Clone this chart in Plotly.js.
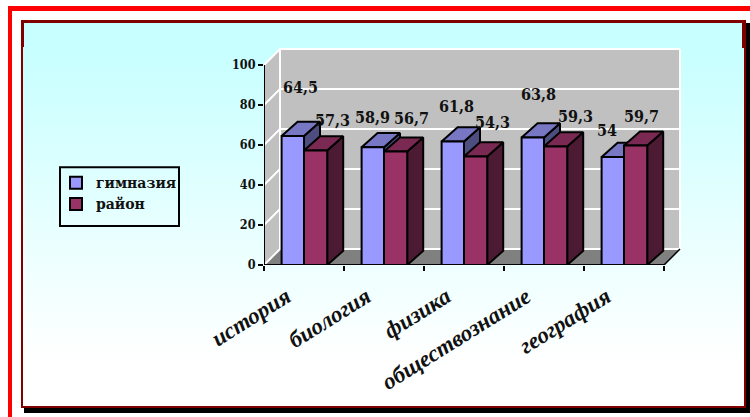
<!DOCTYPE html>
<html>
<head>
<meta charset="utf-8">
<script src="https://cdn.plot.ly/plotly-3.0.1.min.js"></script>
<style>
html,body{margin:0;padding:0;background:#fff;width:750px;height:417px;overflow:hidden}
.d{position:absolute}
#chart{position:absolute;left:0;top:0;width:750px;height:417px}
</style>
</head>
<body>
<div class="d" style="left:8px;top:6px;width:742px;height:5px;background:#ff0000"></div>
<div class="d" style="left:8px;top:6px;width:4px;height:411px;background:#ff0000"></div>
<div class="d" style="left:24px;top:408px;width:726px;height:5px;background:#000"></div>
<div class="d" style="left:746px;top:23px;width:4px;height:390px;background:#000"></div>
<div class="d" style="left:21px;top:20px;width:725px;height:388px;background:#800000"></div>
<div class="d" style="left:23px;top:23px;width:721px;height:383px;background:linear-gradient(to bottom,#c8ffff 0%,#c8ffff 8%,#ffffff 88%,#ffffff 100%)"></div>
<div class="d" style="left:24px;top:23px;width:718px;height:24px;background:#c8ffff"></div>
<div class="d" style="left:21px;top:20px;width:3px;height:27px;background:#800000"></div>
<div class="d" style="left:742px;top:20px;width:4px;height:28px;background:#800000"></div>
<div id="chart"></div>
<script>
const categories = ['история', 'биология', 'физика', 'обществознание', 'география'];
const gymnasium = [64.5, 58.9, 61.8, 63.8, 54];
const district = [57.3, 56.7, 54.3, 59.3, 59.7];
const seriesNames = ['гимназия', 'район'];
const yTicks = [0, 20, 40, 60, 80, 100];
const groupEdges = [0, 1, 2, 3, 4, 5];

// layout constants
const DX = 0.2, DY = 7.1, WX = 0.2, WY = 8;
const gymStart = 0.22, midEdge = 0.5, distEnd = 0.79;
const gymLabelShift = [[8, 49], [0, 30], [4, 35], [6, 43], [-6, 27]];
const distLabelShift = [[17, 30], [16, 33], [17, 34], [20, 30], [6, 29]];
const SERIF = '"Liberation Serif", serif';
const WIDE = '"DejaVu Serif Condensed", "DejaVu Serif", serif';

function addPolys(polys) {
  const x = [], y = [];
  polys.forEach(p => { p.forEach(q => { x.push(q[0]); y.push(q[1]); }); x.push(null); y.push(null); });
  return {x, y};
}
function fillTrace(polys, fill, lineColor, lineWidth, z) {
  const c = addPolys(polys);
  return {type:'scatter', mode:'lines', x:c.x, y:c.y, fill:'toself', fillcolor:fill,
    line:{color:lineColor, width:lineWidth}, showlegend:false, hoverinfo:'skip', cliponaxis:false, zorder:z};
}
function lineTrace(segs, color, width, z) {
  const c = addPolys(segs);
  return {type:'scatter', mode:'lines', x:c.x, y:c.y, line:{color, width},
    showlegend:false, hoverinfo:'skip', cliponaxis:false, zorder:z};
}
function tops(vals, a, b) {
  return vals.map((v, i) => [[i+a,v],[i+b,v],[i+b+DX,v+DY],[i+a+DX,v+DY],[i+a,v]]);
}
function sides(vals, b) {
  return vals.map((v, i) => [[i+b,0],[i+b+DX,DY],[i+b+DX,v+DY],[i+b,v],[i+b,0]]);
}
function bar(vals, a, b, color, name, z) {
  return {type:'bar', name, x:categories.map((c,i)=>i), y:vals, width:b-a, offset:a,
    marker:{color, line:{color:'#000', width:2}}, cliponaxis:false, zorder:z, hoverinfo:'skip'};
}

const wallEnd = groupEdges[groupEdges.length-1];
const traces = [
  fillTrace([[[WX,WY],[wallEnd+WX,WY],[wallEnd+WX,100+WY],[WX,100+WY],[WX,WY]]], '#c0c0c0', '#c0c0c0', 0.5, 0),
  fillTrace([[[0,0],[WX,WY],[WX,100+WY],[0,100],[0,0]]], '#c0c0c0', '#c0c0c0', 0.5, 0),
  fillTrace([[[0,0],[wallEnd,0],[wallEnd+WX,WY],[WX,WY],[0,0]]], '#808080', '#808080', 0.5, 0),
  lineTrace(yTicks.map(v => [[0,v],[WX,v+WY],[wallEnd+WX,v+WY]]), '#ffffff', 2, 0),
  lineTrace([[[WX,WY],[WX,100+WY]], [[wallEnd+WX,WY],[wallEnd+WX,100+WY]]], '#ffffff', 2, 0),
  lineTrace([[[wallEnd,0],[wallEnd+WX,WY]]], '#000', 1.5, 0),
  fillTrace(sides(gymnasium, midEdge), '#4d4d80', '#000', 2, 1),
  fillTrace(tops(gymnasium, gymStart, midEdge), '#7777c4', '#000', 2, 1),
  bar(gymnasium, gymStart, midEdge, '#9999ff', seriesNames[0], 2),
  fillTrace(sides(district, distEnd), '#4d1a33', '#000', 2, 3),
  fillTrace(tops(district, midEdge, distEnd), '#7a2952', '#000', 2, 3),
  bar(district, midEdge, distEnd, '#993366', seriesNames[1], 4),
  lineTrace([[[0,0],[0,100]], [[0,0],[wallEnd,0]]], '#000', 2, 5)
];

const fmt = v => String(v).replace('.', ',');
const labelFont = {family:WIDE, size:16, color:'#111', weight:700};
const annotations = [];
gymnasium.forEach((v,i) => annotations.push({x:i+(gymStart+midEdge)/2, y:v, text:fmt(v), showarrow:false,
  xshift:gymLabelShift[i][0], yshift:gymLabelShift[i][1], font:labelFont, xanchor:'center', yanchor:'middle'}));
district.forEach((v,i) => annotations.push({x:i+(midEdge+distEnd)/2, y:v, text:fmt(v), showarrow:false,
  xshift:distLabelShift[i][0], yshift:distLabelShift[i][1], font:labelFont, xanchor:'center', yanchor:'middle'}));

// clipped fragments of the heading at the very top edge
[['р',208],['у',302],['р',350]].forEach(t => annotations.push({
  xref:'paper', yref:'paper', x:(t[1]-264)/420, y:(265+14)/220.5, text:'<b><i>'+t[0]+'</i></b>',
  showarrow:false, xanchor:'center', yanchor:'middle', font:{family:SERIF, size:24, color:'#ff0066'}}));

const layout = {
  width:750, height:417,
  paper_bgcolor:'rgba(0,0,0,0)', plot_bgcolor:'rgba(0,0,0,0)',
  margin:{l:264, r:66, t:44.5, b:152, pad:0, autoexpand:false},
  barmode:'overlay',
  showlegend:true,
  legend:{x:(56-264)/420, y:(265-167)/220.5, xanchor:'left', yanchor:'top',
    bgcolor:'rgba(0,0,0,0)', borderwidth:0,
    font:{family:'"DejaVu Serif", serif', size:14, color:'#111', weight:700},
    itemclick:false, itemdoubleclick:false, traceorder:'normal', tracegroupgap:0},
  shapes:[{type:'rect', xref:'paper', yref:'paper', layer:'above',
    x0:(60-264)/420, x1:(179-264)/420, y0:(265-167)/220.5, y1:(265-226)/220.5,
    line:{color:'#000', width:2}, fillcolor:'rgba(0,0,0,0)'}],
  xaxis:{range:[0,5.25], tickmode:'array', tickvals:categories.map((c,i)=>i+0.28), ticktext:categories,
    tickangle:-32, ticks:'', showgrid:false, zeroline:false, showline:false, fixedrange:true, ticklabelstandoff:13,
    tickfont:{family:SERIF, size:23, color:'#111', style:'italic', weight:700},
    minor:{tickmode:'array', tickvals:groupEdges, ticks:'outside', ticklen:5, tickwidth:2, tickcolor:'#000', showgrid:false}},
  yaxis:{range:[0,110], tickmode:'array', tickvals:yTicks, ticks:'outside', ticklen:5, tickwidth:2, tickcolor:'#000',
    showgrid:false, zeroline:false, showline:false, fixedrange:true,
    tickfont:{family:WIDE, size:12.5, color:'#111', weight:700}},
  annotations
};
Plotly.newPlot('chart', traces, layout, {displayModeBar:false, staticPlot:true});
</script>
</body>
</html>
